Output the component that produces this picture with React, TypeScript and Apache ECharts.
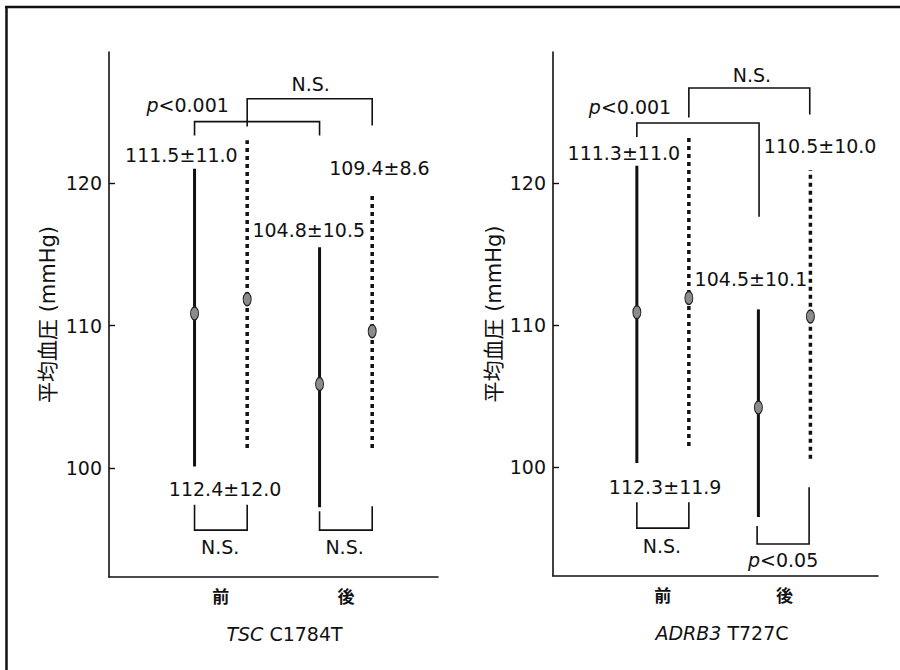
import React, { useEffect, useRef } from 'react';
import * as echarts from 'echarts';

// ---------- data ----------
const categories = ['前', '後'];
const yTicks = [100, 110, 120];
const tscTitle = ['TSC', 'C1784T'];
const adrbTitle = ['ADRB3', 'T727C'];
const yName = '平均血圧 (mmHg)';

// order of bars: 前 (solid), 前 (dotted), 後 (solid), 後 (dotted)
const tscMean = [110.85, 111.85, 105.9, 109.6];
const tscLow = [100.1, 101.4, 97.25, 101.4];
const tscHigh = [121.0, 123.0, 115.5, 119.3];
const tscLabels = ['111.5±11.0', '112.4±12.0', '104.8±10.5', '109.4±8.6'];

const adrbMean = [110.9, 111.9, 104.2, 110.6];
const adrbLow = [100.3, 101.5, 96.5, 100.6];
const adrbHigh = [121.2, 123.2, 111.1, 120.9];
const adrbLabels = ['111.3±11.0', '112.3±11.9', '104.5±10.1', '110.5±10.0'];

// significance texts
const tscSig = ['p<0.001', 'N.S.', 'N.S.', 'N.S.'];
const adrbSig = ['p<0.001', 'N.S.', 'N.S.', 'p<0.05'];

// ---------- layout (data coordinates) ----------
const tscCenters = [3.4, 7.2];
const adrbCenters = [3.38, 7.12];
const PAIR_OFFSET = 0.8;

const tscLabelAnchors = [[2.2, 121.95], [3.53, 98.5], [6.07, 116.7], [8.22, 121.05]];
const adrbLabelAnchors = [[2.18, 122.1], [3.45, 98.6], [6.09, 113.26], [8.22, 122.6]];

// [x1, x2, barY, leg1Y, leg2Y, textX, textY]
const tscBrackets = [
  [2.6, 6.4, 124.31, 123.34, 123.34, 2.39, 125.5],
  [4.2, 8.0, 125.92, 123.97, 124.04, 6.13, 126.97],
  [2.6, 4.2, 95.64, 97.43, 97.43, 3.38, 94.45],
  [6.4, 8.0, 95.64, 96.97, 97.32, 7.16, 94.45],
];
const adrbBrackets = [
  [2.58, 6.34, 124.21, 123.23, 117.61, 2.37, 125.3],
  [4.18, 7.9, 126.67, 124.6, 124.8, 6.12, 127.58],
  [2.58, 4.18, 95.72, 97.54, 97.54, 3.35, 94.46],
  [6.28, 7.88, 94.6, 95.86, 98.6, 7.08, 93.45],
];

const FONT = '"DejaVu Sans", "Noto Sans CJK JP", sans-serif';
const INK = '#111111';
const TEXT_FONT = '19px ' + FONT;

function sigFormatter(t: string) {
  if (t.startsWith('p')) return '{i|p}' + t.slice(1);
  return t;
}

function textItem(api: any, text: string) {
  const p = api.coord([api.value(0), api.value(1)]);
  return {
    type: 'text',
    x: p[0],
    y: p[1],
    style: {
      text,
      fill: INK,
      font: TEXT_FONT,
      fontFamily: FONT,
      fontSize: 19,
      align: 'center',
      verticalAlign: 'middle',
      rich: {
        i: { fontFamily: FONT, fontSize: 19, fontStyle: 'italic', fill: INK, color: INK },
      },
    },
  };
}

function buildPanel(
  idx: number,
  centers: number[],
  mean: number[],
  low: number[],
  high: number[],
  labels: string[],
  anchors: number[][],
  brackets: number[][],
  sig: string[]
) {
  const xs = mean.map((_, i) => centers[Math.floor(i / 2)] + (i % 2 === 0 ? -PAIR_OFFSET : PAIR_OFFSET));
  const barData = mean.map((_, i) => [xs[i], low[i], high[i], i % 2]);
  const meanData = mean.map((m, i) => [xs[i], m]);
  const common = { xAxisIndex: idx, yAxisIndex: idx, silent: true, z: 3 };
  return [
    {
      ...common,
      type: 'custom',
      data: barData,
      renderItem: (params: any, api: any) => {
        const x = api.value(0);
        const p1 = api.coord([x, api.value(1)]);
        const p2 = api.coord([x, api.value(2)]);
        const dotted = api.value(3) === 1;
        return {
          type: 'line',
          shape: { x1: p1[0], y1: p1[1], x2: p2[0], y2: p2[1] },
          style: {
            stroke: INK,
            lineWidth: dotted ? 3.5 : 3,
            lineDash: dotted ? [4, 4] : null,
            fill: null,
          },
        };
      },
    },
    {
      ...common,
      type: 'scatter',
      z: 5,
      data: meanData,
      symbol: 'circle',
      symbolSize: [8, 13],
      itemStyle: { color: '#8c8c8c', borderColor: '#222', borderWidth: 1.2, opacity: 1 },
    },
    {
      ...common,
      type: 'custom',
      data: brackets.map((b) => b.slice(0, 5)),
      renderItem: (params: any, api: any) => {
        const x1 = api.value(0);
        const x2 = api.value(1);
        const bar = api.value(2);
        const a = api.coord([x1, api.value(3)]);
        const b = api.coord([x1, bar]);
        const c = api.coord([x2, bar]);
        const d = api.coord([x2, api.value(4)]);
        return {
          type: 'polyline',
          shape: { points: [a, b, c, d] },
          style: { stroke: INK, lineWidth: 1.6, fill: null },
        };
      },
    },
    {
      ...common,
      type: 'custom',
      z: 6,
      data: anchors,
      renderItem: (params: any, api: any) => textItem(api, labels[params.dataIndex]),
    },
    {
      ...common,
      type: 'custom',
      z: 6,
      data: brackets.map((b) => [b[5], b[6]]),
      renderItem: (params: any, api: any) => textItem(api, sigFormatter(sig[params.dataIndex])),
    },
  ];
}

function makeXAxis(idx: number, centers: number[], title: string[], pad: number) {
  return {
    type: 'value',
    gridIndex: idx,
    min: 0,
    max: 10,
    axisLine: { show: true, onZero: false, lineStyle: { color: INK, width: 1.6 } },
    axisTick: { show: false },
    splitLine: { show: false },
    axisLabel: {
      show: true,
      customValues: centers,
      formatter: (v: number) => {
        const i = centers.findIndex((c) => Math.abs(c - v) < 1e-6);
        return i >= 0 ? categories[i] : '';
      },
      fontFamily: '"Noto Sans CJK JP", sans-serif',
      fontWeight: 'bold',
      fontSize: 17,
      color: INK,
      margin: 10,
    },
    name: '{i|' + title[0] + '} ' + title[1],
    nameLocation: 'middle',
    nameGap: 47,
    nameTextStyle: {
      fontFamily: FONT,
      fontSize: 19,
      color: INK,
      padding: [0, 0, 0, pad],
      rich: { i: { fontFamily: FONT, fontSize: 19, fontStyle: 'italic', color: INK } },
    },
  };
}

function makeYAxis(idx: number, gap: number) {
  return {
    type: 'value',
    gridIndex: idx,
    min: 92.35,
    max: 129.2,
    axisLine: { show: true, lineStyle: { color: INK, width: 1.6 } },
    axisTick: { show: true, inside: true, length: 6, customValues: yTicks, lineStyle: { color: INK, width: 1.4 } },
    splitLine: { show: false },
    axisLabel: {
      show: true,
      customValues: yTicks,
      fontFamily: FONT,
      fontSize: 19,
      color: INK,
      margin: 7,
    },
    name: yName,
    nameLocation: 'middle',
    nameRotate: 90,
    nameGap: gap,
    nameTextStyle: { fontFamily: FONT, fontSize: 21, color: INK, fontWeight: 'normal' },
  };
}

export default function App() {
  const ref = useRef<HTMLDivElement>(null);
  useEffect(() => {
    if (!ref.current) return;
    const chart = echarts.init(ref.current, null, { renderer: 'svg' });
    chart.setOption({
      animation: false,
      backgroundColor: '#ffffff',
      grid: [
        { left: 109, right: 462, top: 52, bottom: 93 },
        { left: 553, right: 22, top: 52, bottom: 94 },
      ],
      xAxis: [makeXAxis(0, tscCenters, tscTitle, 22), makeXAxis(1, adrbCenters, adrbTitle, 13)],
      yAxis: [makeYAxis(0, 51), makeYAxis(1, 49)],
      series: [
        ...buildPanel(0, tscCenters, tscMean, tscLow, tscHigh, tscLabels, tscLabelAnchors, tscBrackets, tscSig),
        ...buildPanel(1, adrbCenters, adrbMean, adrbLow, adrbHigh, adrbLabels, adrbLabelAnchors, adrbBrackets, adrbSig),
      ],
      graphic: [
        { type: 'line', silent: true, shape: { x1: 5, y1: 7, x2: 900, y2: 7 }, style: { stroke: INK, lineWidth: 2.5 } },
        { type: 'line', silent: true, shape: { x1: 6.5, y1: 6, x2: 6.5, y2: 670 }, style: { stroke: INK, lineWidth: 2.5 } },
      ],
    });
    return () => chart.dispose();
  }, []);
  return (
    <div
      ref={ref}
      style={{ position: 'fixed', left: 0, top: 0, width: 900, height: 670, background: '#fff' }}
    />
  );
}
